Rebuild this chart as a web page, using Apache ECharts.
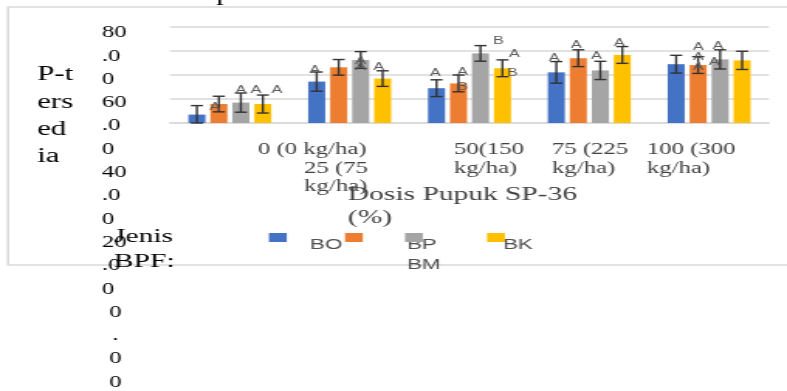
<!DOCTYPE html>
<html><head><meta charset="utf-8">
<script src="https://cdn.jsdelivr.net/npm/echarts@6.0.0/dist/echarts.min.js"></script>
<style>
html,body{margin:0;padding:0;background:#fff;overflow:hidden;width:787px;height:391px;}
#chart{position:absolute;left:0;top:0;width:508px;height:391px;transform:scaleX(1.5492);transform-origin:0 0;}
</style></head><body><div id="chart"></div>
<script>
// ---------------- data ----------------
const categories = ['0 (0 kg/ha)', '25 (75 kg/ha)', '50(150 kg/ha)', '75 (225 kg/ha)', '100 (300 kg/ha)'];
const seriesNames = ['BO', 'BP', 'BM', 'BK'];
const valuesBO = [7.0, 34.5, 29.0, 42.2, 49.0];
const valuesBP = [15.8, 46.4, 33.0, 54.0, 48.3];
const valuesBM = [17.0, 52.5, 58.0, 43.8, 53.0];
const valuesBK = [15.8, 37.0, 45.6, 56.7, 52.2];
const errorsBO = [7.5, 8.0, 7.0, 9.0, 7.4];
const errorsBP = [6.5, 6.5, 7.0, 7.0, 7.0];
const errorsBM = [8.0, 7.0, 6.5, 7.6, 8.0];
const errorsBK = [7.5, 6.5, 7.0, 7.0, 7.6];
const lettersBO = [[], ['A'], ['A'], ['A'], []];
const lettersBP = [['A'], [], ['A', 'B'], ['A'], ['A', 'A', 'A']];
const lettersBM = [['A'], ['A', 'A'], ['B'], ['A'], ['A', 'A']];
const lettersBK = [['A', 'A'], ['A'], ['A', 'B'], ['A'], []];
const yTickLabels = ['80.00', '60.00', '40.00', '20.00', '0.00'];
const yAxisTitle = 'P-tersedia';
const xAxisTitle = 'Dosis Pupuk SP-36';
const xAxisUnit = '(%)';
const legendTitle = ['Jenis', 'BPF:'];
const stray = 'p';
const yMin = 0, yMax = 80, yStep = 20;

// ---------------- styles / layout ----------------
const S = 787 / 508;               // horizontal stretch of the picture
const barColors = ['#4472C4', '#ED7D31', '#A5A5A5', '#FFC000'];
const BAR_W = 11, BAR_GAP = 0.29;
const PITCH = BAR_W * (1 + BAR_GAP);
const CAP = 3.9;
const SERIF = '"Liberation Serif", "Times New Roman", serif';
const SANS = '"Liberation Sans", Arial, sans-serif';
// letter offsets in picture px: [dx from bar centre, dy from whisker top]
const letterOffsets = [
  [[], [[-2, -2]], [[-1, -7]], [[-2, -3]], []],
  [[[-4, 11]], [], [[4, -3], [4, 12]], [[-2, -5]], [[0, -10], [0, 0], [0, 10]]],
  [[[0, -3]], [[0, 10], [0, 16]], [[18, -4]], [[-4, -5]], [[-2, -4], [-6, 12]]],
  [[[-7, -5], [14, -5]], [[-4, -4]], [[12, -6], [10, 13]], [[-3, -3]], []]
];
const labelShift = [18.1, -29.5, -10.1, -24.1, -40.2];
const LABEL_BOX = 60;
const legendIconLeft = [173.6, 222.7, 261.4, 314.4];
const legendTextPos = [[200.1, 245], [262.7, 245], [262.7, 265], [324.7, 245]];

const values = [valuesBO, valuesBP, valuesBM, valuesBK];
const errors = [errorsBO, errorsBP, errorsBM, errorsBK];
const letters = [lettersBO, lettersBP, lettersBM, lettersBK];

function wrapCat(v, i) { return i === 0 ? [v] : v.replace(' kg', '\nkg').split('\n'); }
const rich = {};
categories.forEach((c, i) => {
  const diff = 2 * labelShift[i] + LABEL_BOX;
  rich['c' + i] = {
    fontFamily: SERIF, fontSize: 16, lineHeight: 18.5, color: '#404040',
    width: LABEL_BOX, align: 'left',
    padding: [0, diff < 0 ? -diff : 0, 0, diff > 0 ? diff : 0]
  };
});

const upperLines = yTickLabels.slice(0, 4).flatMap(t => [t.slice(0, 2), t.slice(2, 4), t.slice(4)]);
const zeroLines = yTickLabels[4].split('');
const yTitleLines = [yAxisTitle.slice(0, 3), yAxisTitle.slice(3, 6), yAxisTitle.slice(6, 8), yAxisTitle.slice(8)];

const series = [];
seriesNames.forEach((n, k) => {
  series.push({
    type: 'bar', name: n, data: values[k], barWidth: BAR_W, barGap: (BAR_GAP * 100) + '%',
    itemStyle: { color: barColors[k] }, z: 2, silent: true
  });
});
seriesNames.forEach((n, k) => {
  const off = (k - 1.5) * PITCH;
  series.push({
    type: 'custom', name: n, z: 3, silent: true,
    data: values[k].map((v, i) => [i, v, errors[k][i]]),
    encode: { x: 0, y: 1 },
    renderItem: (params, api) => {
      const i = api.value(0), v = api.value(1), e = api.value(2);
      const x = api.coord([i, v])[0] + off;
      const top = api.coord([i, v + e])[1];
      const bot = api.coord([i, Math.max(v - e, 0)])[1];
      const ls = { stroke: '#333333', lineWidth: 1.4 };
      const children = [
        { type: 'line', shape: { x1: x, y1: top, x2: x, y2: bot }, style: ls },
        { type: 'line', shape: { x1: x - CAP, y1: top, x2: x + CAP, y2: top }, style: ls },
        { type: 'line', shape: { x1: x - CAP, y1: bot, x2: x + CAP, y2: bot }, style: ls }
      ];
      const idx = params.dataIndex;
      letters[k][idx].forEach((t, j) => {
        const o = letterOffsets[k][idx][j];
        children.push({
          type: 'text', x: x + o[0] / S, y: top + o[1],
          style: { text: t, fill: '#595959', font: '10.5px ' + SANS, align: 'center', verticalAlign: 'middle' }
        });
      });
      return { type: 'group', children };
    }
  });
});

const legends = [];
seriesNames.forEach((n, k) => {
  legends.push({
    data: [n], left: legendIconLeft[k], top: 233, padding: 0, icon: 'rect',
    itemWidth: 11.5, itemHeight: 9, formatter: () => '',
    textStyle: { fontSize: 9, lineHeight: 9 }
  });
  legends.push({
    data: [n], left: legendTextPos[k][0] - 5, top: legendTextPos[k][1] - 9, padding: 0, icon: 'none',
    itemWidth: 0, itemHeight: 18,
    textStyle: { fontFamily: SANS, fontSize: 14.5, lineHeight: 18, color: '#505050' }
  });
});

const chart = echarts.init(document.getElementById('chart'), null, { renderer: 'canvas' });
chart.setOption({
  animation: false,
  backgroundColor: 'transparent',
  grid: { left: 109.7, right: 11.6, top: 27, bottom: 268, containLabel: false, outerBoundsMode: 'none' },
  legend: legends,
  xAxis: {
    type: 'category',
    data: categories.map((c, i) => i === 1 ? { value: c, textStyle: { padding: [18.5, 0, 0, 0] } } : c),
    axisTick: { show: false },
    axisLine: { lineStyle: { color: '#d9d9d9', width: 1.5 } },
    axisLabel: {
      interval: 0, margin: 17.75, rich,
      formatter: (v, i) => wrapCat(v, i).map(l => '{c' + i + '|' + l + '}').join('\n')
    },
    name: xAxisTitle + '\n' + xAxisUnit,
    nameLocation: 'start', nameGap: -(224.6 - 109.7), nameMoveOverlap: false,
    nameTextStyle: { align: 'left', verticalAlign: 'top', padding: [60.5, 0, 0, 0],
      fontFamily: SERIF, fontSize: 19, lineHeight: 23, color: '#404040' }
  },
  yAxis: {
    type: 'value', min: yMin, max: yMax, interval: yStep,
    axisLabel: { show: false }, axisLine: { show: false }, axisTick: { show: false },
    splitLine: { lineStyle: { color: '#d9d9d9', width: 1.5 } },
    name: '\n\n\n' + yTitleLines.join('\n'), nameLocation: 'middle', nameRotate: 0, nameGap: 85.8, nameMoveOverlap: false,
    nameTextStyle: { align: 'left', verticalAlign: 'middle',
      fontFamily: SERIF, fontSize: 20, lineHeight: 27.3, color: '#000' }
  },
  graphic: [
    { type: 'rect', silent: true, z: -1, shape: { x: 5.2, y: 7, width: 540, height: 258 },
      style: { fill: 'none', stroke: '#d9d9d9', lineWidth: 1.6 } },
    { type: 'text', x: 139.4, y: -15, silent: true,
      style: { text: stray, font: '20px ' + SERIF, lineHeight: 20, fill: '#000', verticalAlign: 'top' } },
    { type: 'text', x: 65.8, y: 21.35, silent: true,
      style: { text: upperLines.join('\n'), font: '16px ' + SERIF, lineHeight: 23.3, fill: '#000', align: 'left', verticalAlign: 'top' } },
    { type: 'text', x: 74.6, y: 300.95, silent: true,
      style: { text: zeroLines.join('\n'), font: '16px ' + SERIF, lineHeight: 23.3, fill: '#000', align: 'center', verticalAlign: 'top' } },
    { type: 'text', x: 73.6, y: 224.5, silent: true,
      style: { text: legendTitle.join('\n'), font: '19px ' + SERIF, lineHeight: 25, fill: '#000', align: 'left', verticalAlign: 'top' } }
  ],
  series
});
</script></body></html>
